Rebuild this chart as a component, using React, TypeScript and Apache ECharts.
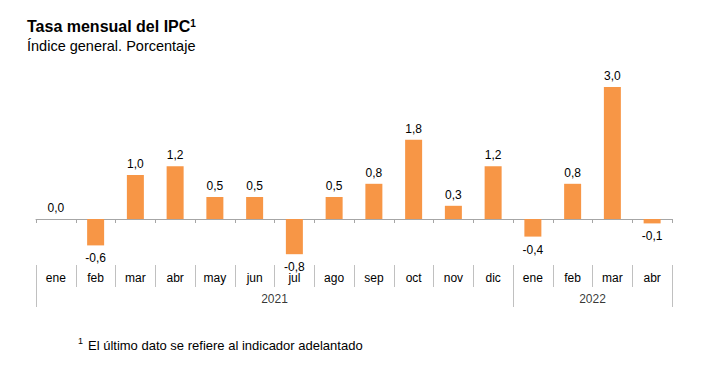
import React, { useEffect, useRef } from "react";
import * as echarts from "echarts";

const months = ["ene", "feb", "mar", "abr", "may", "jun", "jul", "ago", "sep", "oct", "nov", "dic", "ene", "feb", "mar", "abr"];
const values = [0.0, -0.6, 1.0, 1.2, 0.5, 0.5, -0.8, 0.5, 0.8, 1.8, 0.3, 1.2, -0.4, 0.8, 3.0, -0.1];
const years = ["2021", "2022"];
const yearSpans = [12, 4];

const FONT = "'Liberation Sans', Arial, sans-serif";
const BAR = "#F79646";
const AXIS = "#a6a6a6";
const SEP = "#c0c0c0";

export default function App() {
  const ref = useRef<HTMLDivElement>(null);
  useEffect(() => {
    if (!ref.current) return;
    const chart = echarts.init(ref.current, null, { renderer: "svg" });

    const boundaries: number[] = [0];
    const yearCenters: number[] = [];
    let acc = 0;
    yearSpans.forEach((s) => {
      yearCenters.push(acc + s / 2);
      acc += s;
      boundaries.push(acc);
    });

    const fmt = (v: number) => v.toFixed(1).replace(".", ",");

    chart.setOption({
      animation: false,
      textStyle: { fontFamily: FONT },
      title: [
        {
          left: 22,
          top: 13,
          text: "{a|Tasa mensual del IPC}{s|1}",
          textStyle: {
            rich: {
              a: { fontSize: 16, fontWeight: "bold", color: "#000", fontFamily: FONT },
              s: { fontSize: 10, fontWeight: "bold", color: "#000", fontFamily: FONT, verticalAlign: "top", padding: [0, 0, 6, 0] },
            },
          },
        },
        {
          left: 22,
          top: 33,
          text: "Índice general. Porcentaje",
          textStyle: { fontSize: 14.5, fontWeight: "normal", color: "#000", fontFamily: FONT },
        },
        {
          left: 73,
          top: 331,
          text: "{s|1} {t|El último dato se refiere al indicador adelantado}",
          textStyle: {
            fontWeight: "normal",
            rich: {
              s: { fontSize: 9, fontWeight: "normal", color: "#000", fontFamily: FONT, verticalAlign: "top", padding: [0, 0, 5, 0] },
              t: { fontSize: 13, fontWeight: "normal", color: "#000", fontFamily: FONT },
            },
          },
        },
      ],
      grid: [
        { left: 36, right: 32, top: 78.2, height: 184.8 },
        { left: 36, right: 32, top: 265, height: 22 },
        { left: 36, right: 32, top: 287, height: 20 },
      ],
      xAxis: [
        {
          gridIndex: 0,
          type: "category",
          data: months,
          axisLine: { show: true, onZero: true, lineStyle: { color: AXIS, width: 1 } },
          axisTick: { show: true, interval: 0, length: 4, lineStyle: { color: AXIS } },
          axisLabel: { show: false },
          splitLine: { show: false },
        },
        {
          gridIndex: 1,
          type: "category",
          data: months,
          position: "top",
          axisLine: { show: false },
          axisTick: { show: false },
          axisLabel: { show: true, inside: true, margin: 7, interval: 0, fontSize: 12, color: "#000", fontFamily: FONT },
          splitLine: { show: true, interval: 0, lineStyle: { color: SEP, width: 1 } },
        },
        {
          gridIndex: 2,
          type: "value",
          min: 0,
          max: months.length,
          show: false,
        },
      ],
      yAxis: [
        { gridIndex: 0, type: "value", min: -1, max: 3.2, show: false },
        { gridIndex: 1, type: "value", min: 0, max: 1, show: false },
        { gridIndex: 2, type: "value", min: 0, max: 1, show: false },
      ],
      series: [
        {
          type: "bar",
          xAxisIndex: 0,
          yAxisIndex: 0,
          barWidth: 17,
          itemStyle: { color: BAR },
          data: values.map((v) => ({
            value: v,
            label: {
              show: true,
              position: v < 0 ? "bottom" : "top",
              distance: v < 0 ? 7 : 5,
              formatter: () => fmt(v),
              fontSize: 12,
              color: "#000",
              fontFamily: FONT,
            },
          })),
        },
        {
          type: "scatter",
          xAxisIndex: 2,
          yAxisIndex: 2,
          symbolSize: 0,
          silent: true,
          data: yearCenters.map((c, i) => ({
            value: [c, 0.4],
            label: {
              show: true,
              position: "inside",
              formatter: years[i],
              fontSize: 12,
              color: "#000",
              fontFamily: FONT,
            },
          })),
          markLine: {
            silent: true,
            symbol: ["none", "none"],
            label: { show: false },
            lineStyle: { color: SEP, type: "solid", width: 1 },
            data: boundaries.map((b) => ({ xAxis: b })),
          },
        },
      ],
    });
    return () => chart.dispose();
  }, []);
  return <div ref={ref} style={{ position: "fixed", left: 0, top: 0, width: 704, height: 375, background: "#fff" }} />;
}
